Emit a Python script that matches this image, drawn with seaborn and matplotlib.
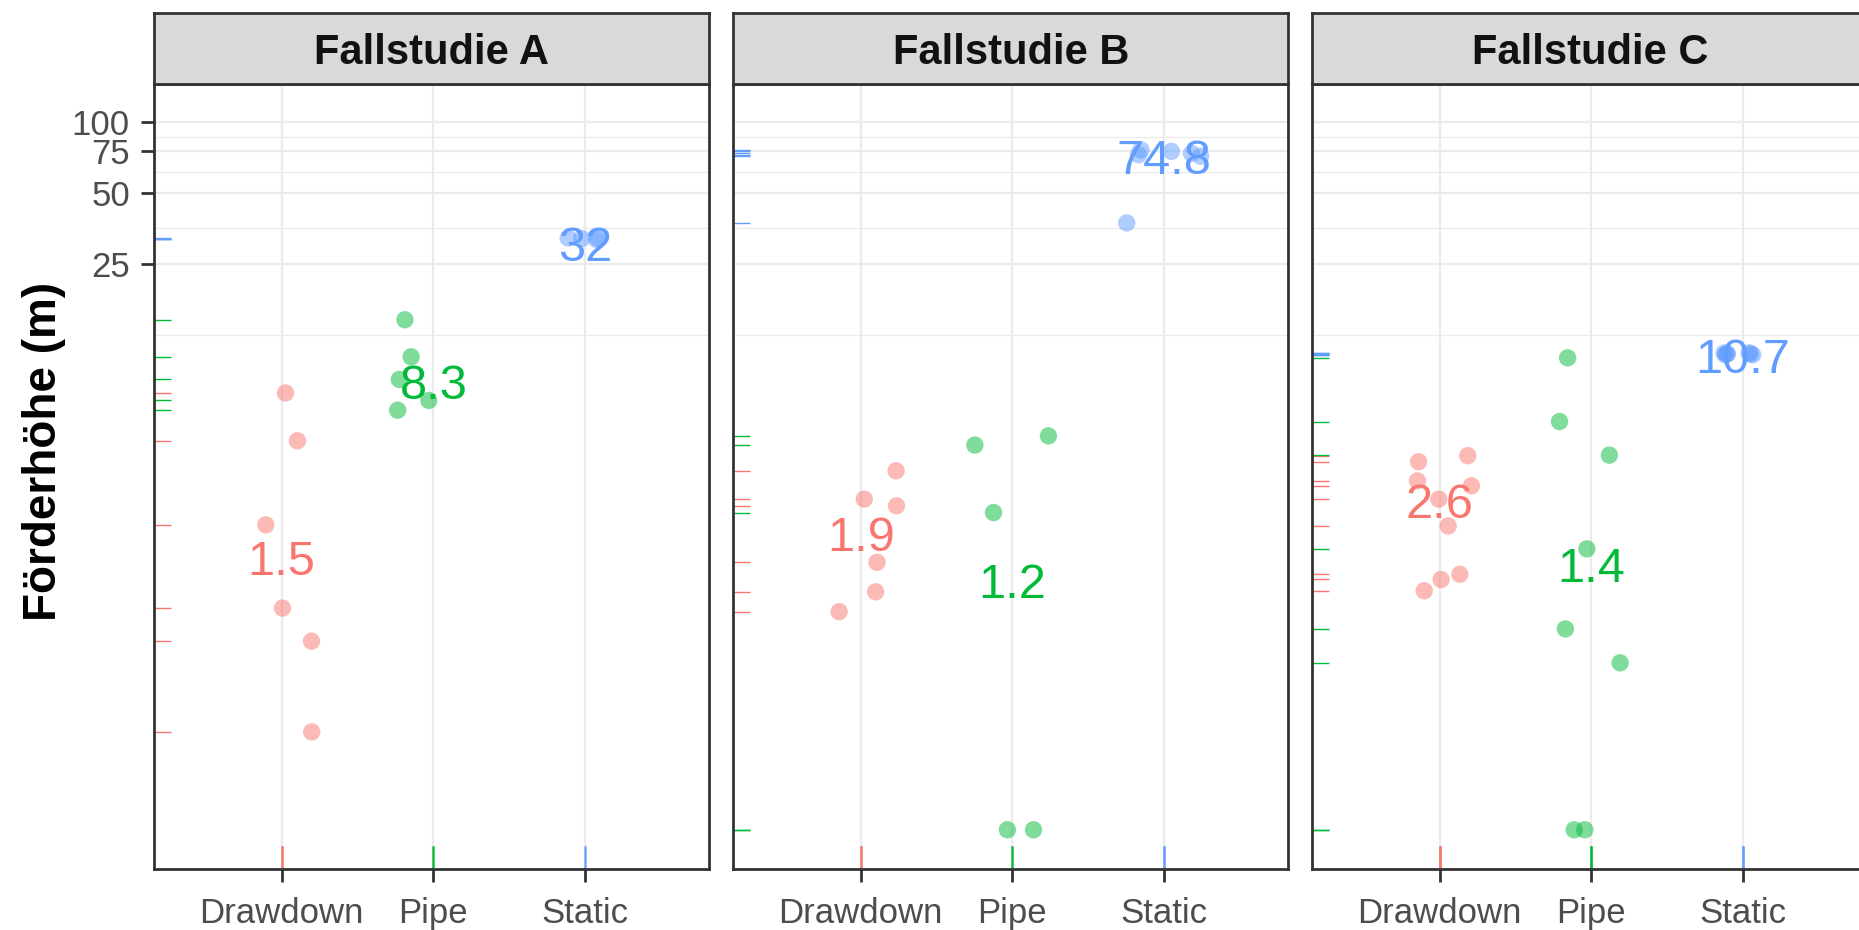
import numpy as np
import pandas as pd
import matplotlib
matplotlib.use("Agg")
import matplotlib.pyplot as plt
from matplotlib.ticker import FixedLocator, FixedFormatter, NullFormatter
from matplotlib.transforms import ScaledTranslation
import seaborn as sns

# Daten
studies = ["Fallstudie A", "Fallstudie B", "Fallstudie C"]
groups = ["Drawdown", "Pipe", "Static"]

a_drawdown = [7.1, 4.45, 1.96, 0.87, 0.63, 0.26]
a_pipe = [14.5, 10.1, 8.1, 6.6, 6.0]
a_static = [32.0, 31.8, 32.2, 32.0]

b_drawdown = [3.32, 2.52, 2.36, 1.36, 1.02, 0.84]
b_pipe = [4.67, 4.27, 2.21, 0.1, 0.1]
b_static = [76.0, 73.5, 71.5, 72.5, 75.0, 37.3]

c_drawdown = [3.63, 3.85, 3.01, 2.87, 2.52, 1.94, 1.21, 1.15, 1.03]
c_pipe = [10.0, 5.37, 3.87, 1.55, 0.71, 0.51, 0.1, 0.1]
c_static = [10.4, 10.3, 10.5, 10.4, 10.3, 10.4, 10.5]

# Beschriftungen (Mittelwerte je Gruppe)
labels_a = [1.5, 8.3, 32.0]
labels_b = [1.9, 1.2, 74.8]
labels_c = [2.6, 1.4, 10.7]

y_breaks = [25, 50, 75, 100]

colors = {"Drawdown": "#F8766D", "Pipe": "#00BA38", "Static": "#619CFF"}

series = {
    "Fallstudie A": [a_drawdown, a_pipe, a_static],
    "Fallstudie B": [b_drawdown, b_pipe, b_static],
    "Fallstudie C": [c_drawdown, c_pipe, c_static],
}
labels = {"Fallstudie A": labels_a, "Fallstudie B": labels_b, "Fallstudie C": labels_c}

rows = []
for study in studies:
    for g, vals in zip(groups, series[study]):
        for v in vals:
            rows.append({"study": study, "group": g, "pos": groups.index(g), "value": v})
df = pd.DataFrame(rows)

sns.set_style("white")
plt.rcParams["font.family"] = ["Liberation Sans", "DejaVu Sans"]

W, H = 1859, 930
fig = plt.figure(figsize=(W / 100, H / 100), dpi=100)

panel_left = [154.3, 733.3, 1312.3]
panel_w = 555
panel_top, panel_bot = 84.5, 869.3
strip_top = 13.5

# Nebengitterlinien in der Mitte (log) zwischen den Hauptlinien
minor = [y_breaks[0] ** 2 / y_breaks[1]] + [np.sqrt(a * b) for a, b in zip(y_breaks[:-1], y_breaks[1:])]

text_shift = ScaledTranslation(0, -0.10, fig.dpi_scale_trans)

for i, study in enumerate(studies):
    l = panel_left[i]
    ax = fig.add_axes([l / W, 1 - panel_bot / H, panel_w / W, (panel_bot - panel_top) / H])
    ax.set_yscale("log")
    sub = df[df.study == study]

    # Rugs links und unten
    sns.rugplot(data=sub, y="value", hue="group", palette=colors, height=0.03,
                lw=2.5, legend=False, expand_margins=False, ax=ax, zorder=2)
    sns.rugplot(data=sub, x="pos", hue="group", palette=colors, height=0.03,
                lw=2.5, legend=False, expand_margins=False, ax=ax, zorder=2)

    # Mittelwert-Texte
    for pos, (g, lab) in enumerate(zip(groups, labels[study])):
        ax.text(pos, lab, f"{lab:g}", color=colors[g], ha="center", va="center",
                fontsize=35, zorder=2, transform=ax.transData + text_shift)

    np.random.seed(3 + i)
    sns.stripplot(data=sub, x="pos", y="value", hue="group", palette=colors,
                  native_scale=True, jitter=0.25, size=12.5, alpha=0.5,
                  linewidth=0, legend=False, ax=ax, zorder=3)

    ax.set_yscale("log")
    ax.set_ylim(0.068, 144)
    ax.set_xlim(-0.84, 2.82)
    ax.yaxis.set_major_locator(FixedLocator(y_breaks))
    ax.yaxis.set_major_formatter(FixedFormatter([str(b) for b in y_breaks]))
    ax.yaxis.set_minor_locator(FixedLocator(minor))
    ax.yaxis.set_minor_formatter(NullFormatter())
    ax.set_xticks(range(len(groups)))
    ax.set_xticklabels(groups)
    ax.set_xlabel("")
    ax.set_ylabel("")

    ax.set_axisbelow(True)
    ax.grid(True, which="major", color="#EBEBEB", lw=1.6)
    ax.grid(True, which="minor", axis="y", color="#EBEBEB", lw=0.9)

    ax.tick_params(axis="both", which="major", direction="out", length=9.1, width=2,
                   color="#333333", labelcolor="#4D4D4D")
    ax.tick_params(axis="y", which="major", labelsize=25, pad=8.5, left=True)
    ax.tick_params(axis="x", which="major", labelsize=25, pad=10.5, bottom=True)
    ax.tick_params(axis="y", which="minor", length=0)
    if i > 0:
        ax.tick_params(axis="y", which="both", left=False, labelleft=False)
    for s in ax.spines.values():
        s.set_visible(True)
        s.set_color("#333333")
        s.set_linewidth(2)

    # Streifen mit Titel
    sax = fig.add_axes([l / W, 1 - panel_top / H, panel_w / W, (panel_top - strip_top) / H])
    sax.set_facecolor("#D9D9D9")
    sax.set_xticks([])
    sax.set_yticks([])
    for s in sax.spines.values():
        s.set_visible(True)
        s.set_color("#333333")
        s.set_linewidth(2)
    sax.text(0.5, 0.44, study, ha="center", va="center", fontsize=30,
             fontweight="bold", color="#111111", transform=sax.transAxes)

fig.text(44 / W, 1 - 451 / H, "Förderhöhe (m)", rotation=90, ha="center", va="center",
         fontsize=33, fontweight="bold", color="black")

fig.savefig("out.png", dpi=100)
